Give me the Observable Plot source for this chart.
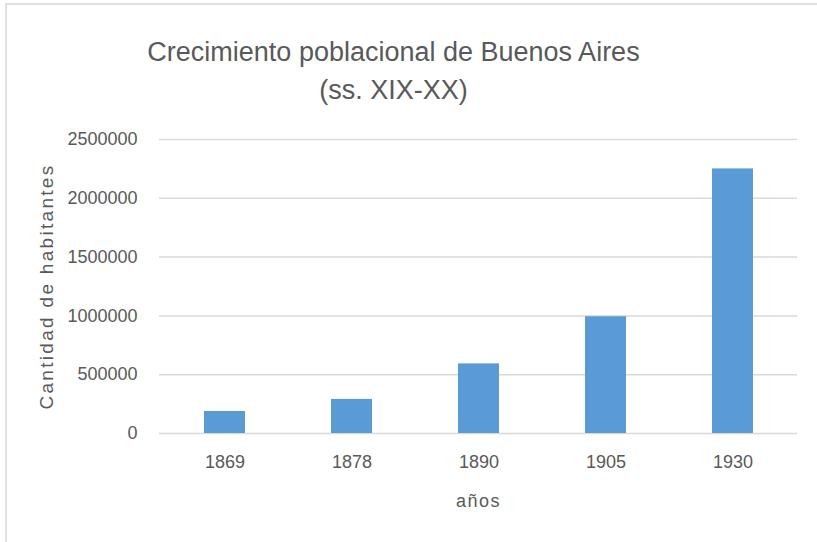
<!DOCTYPE html>
<html>
<head>
<meta charset="utf-8">
<script src="https://cdn.jsdelivr.net/npm/d3@7"></script>
<script src="https://cdn.jsdelivr.net/npm/@observablehq/plot@0.6"></script>
<style>
  html, body { margin: 0; padding: 0; background: #fff; overflow: hidden; }
  #wrap { position: relative; width: 817px; height: 542px; overflow: hidden; background: #fff; }
  #frame { position: absolute; left: 5px; top: 3px; width: 900px; height: 700px;
           border-top: 2px solid #e0e0e0; border-left: 2px solid #e0e0e0; box-sizing: border-box; }
  .title { position: absolute; left: 0; width: 787px; text-align: center; color: #595959;
           font-family: "Liberation Sans", Arial, sans-serif; font-size: 27px; line-height: 27px; white-space: nowrap; }
  #chart { position: absolute; left: 0; top: 120px; }
  #chart svg g[aria-label="y-axis label"] text { font-size: 19px; letter-spacing: 2.3px; }
  #chart svg g[aria-label="x-axis label"] text { letter-spacing: 1.5px; }
</style>
</head>
<body>
<div id="wrap">
  <div id="frame"></div>
  <div class="title" id="t1" style="top:39px">Crecimiento poblacional de Buenos Aires</div>
  <div class="title" id="t2" style="top:77px">(ss. XIX-XX)</div>
  <div id="chart"></div>
</div>
<script>
const years = ["1869", "1878", "1890", "1905", "1930"];
const habitantes = [187000, 290000, 592000, 993000, 2250000];
const yTicks = [0, 500000, 1000000, 1500000, 2000000, 2500000];
const titleText = "Crecimiento poblacional de Buenos Aires";
const subtitleText = "(ss. XIX-XX)";
const xLabel = "años";
const yLabel = "Cantidad de habitantes";

document.getElementById("t1").textContent = titleText;
document.getElementById("t2").textContent = subtitleText;

const data = years.map((y, i) => ({year: y, value: habitantes[i]}));

const chart = Plot.plot({
  width: 817,
  height: 422,
  marginTop: 19,
  marginBottom: 109,
  marginLeft: 159,
  marginRight: 20,
  style: {fontFamily: "'Liberation Sans', Arial, sans-serif", fontSize: "18px", color: "#595959", background: "transparent"},
  x: {domain: years, paddingInner: 0.68, paddingOuter: 0.34},
  y: {domain: [0, 2500000]},
  marks: [
    Plot.gridY(yTicks, {stroke: "#d9d9d9", strokeOpacity: 1, strokeWidth: 1.5}),
    Plot.barY(data, {x: "year", y: "value", fill: "#5b9bd5"}),
    Plot.axisX({tickSize: 0, tickPadding: 22, label: xLabel, labelAnchor: "center", labelOffset: 73, labelArrow: "none", fill: "#595959"}),
    Plot.axisY(yTicks, {tickSize: 0, tickPadding: 22, tickFormat: d => String(d), label: yLabel, labelAnchor: "center", labelOffset: 120, labelArrow: "none", fill: "#595959"})
  ]
});
document.getElementById("chart").appendChild(chart);
</script>
</body>
</html>
